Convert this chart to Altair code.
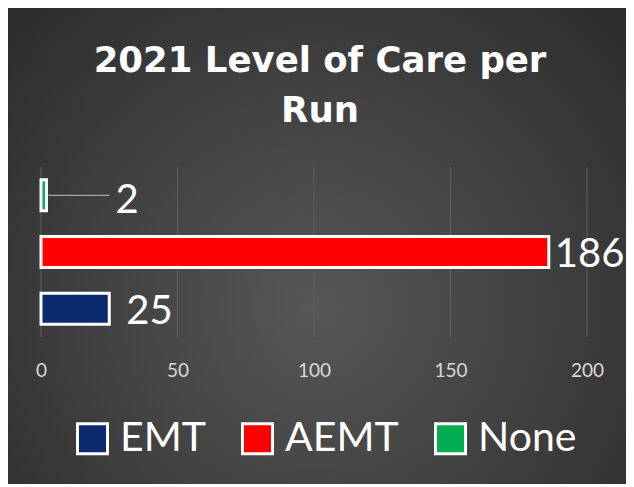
import altair as alt
import pandas as pd

# ---- data ----
categories = ["EMT", "AEMT", "None"]
values = [25, 186, 2]
colors = ["#0b2a6f", "#ff0000", "#00b050"]
tick_values = [0, 50, 100, 150, 200]
title_lines = ["2021 Level of Care per", "Run"]
y_order = ["None", "AEMT", "EMT"]

df = pd.DataFrame({"category": categories, "value": values})
ticks_df = pd.DataFrame({"tick": tick_values})

# ---- layout (not data) ----
W, H = 546, 170
PAD = {"left": 33, "top": 159, "right": 39, "bottom": 147}
label_offsets = {"None": (69, 6), "AEMT": (6, 3), "EMT": (17, 3)}

x_scale = alt.Scale(domain=[0, 200], nice=False, zero=True)
y_scale = alt.Scale(domain=y_order, paddingInner=0, paddingOuter=0)
x_axis = alt.Axis(values=tick_values, grid=False, domain=False, ticks=False,
                  tickSize=0, labelPadding=24, labelFont="Lato", labelFlush=False,
                  labelFontSize=19, labelColor="#d9d9d9", zindex=1)

bg = alt.Chart(alt.Data(values=[{"bg": 1}])).mark_rect(
    fill=alt.RadialGradient(
        gradient="radial",
        stops=[alt.GradientStop(color="#575757", offset=0),
               alt.GradientStop(color="#262626", offset=1)],
        x1=0.5, y1=0.6, r1=0, x2=0.5, y2=0.6, r2=0.78,
    )
).encode(
    x=alt.value(-PAD["left"]), x2=alt.value(W + PAD["right"]),
    y=alt.value(-PAD["top"]), y2=alt.value(H + PAD["bottom"]),
)

grid = alt.Chart(ticks_df).mark_rule(color="#5e5e5e", strokeWidth=1).encode(
    x=alt.X("tick:Q", scale=x_scale, axis=x_axis, title=None)
)

bars = alt.Chart(df).mark_bar(size=31, stroke="white", strokeWidth=3).encode(
    x=alt.X("value:Q", scale=x_scale, axis=x_axis, title=None),
    y=alt.Y("category:N", scale=y_scale, axis=None),
    color=alt.Color("category:N", scale=alt.Scale(domain=categories, range=colors),
                    legend=alt.Legend(title=None, orient="none", legendX=31, legendY=251,
                                      direction="horizontal", symbolType="square",
                                      symbolSize=900, symbolStrokeColor="white",
                                      symbolStrokeWidth=3, symbolOpacity=1,
                                      labelFont="Lato", labelFontSize=41,
                                      labelColor="white", labelOffset=7,
                                      columnPadding=30, padding=0, labelLimit=300)),
)

leader = alt.Chart(df).transform_filter(alt.datum.category == "None").mark_rule(
    color="#a6a6a6", strokeWidth=1.2, xOffset=2, x2Offset=63
).encode(
    x=alt.X("value:Q", scale=x_scale, axis=x_axis, title=None),
    x2="value:Q",
    y=alt.Y("category:N", scale=y_scale, axis=None),
)

texts = []
for cat, (ddx, ddy) in label_offsets.items():
    texts.append(
        alt.Chart(df).transform_filter(alt.datum.category == cat).mark_text(
            align="left", baseline="middle", dx=ddx, dy=ddy,
            font="Lato", fontSize=40, color="white"
        ).encode(
            x=alt.X("value:Q", scale=x_scale, axis=x_axis, title=None),
            y=alt.Y("category:N", scale=y_scale, axis=None),
            text="value:Q",
        )
    )

chart = alt.layer(bg, grid, bars, leader, *texts).properties(
    width=W, height=H,
    title=alt.TitleParams(text=title_lines, font="DejaVu Sans", fontSize=35.5,
                          fontWeight="bold", color="white", lineHeight=50,
                          anchor="middle", frame="group", offset=-121, dx=6),
    autosize=alt.AutoSizeParams(type="none"),
    padding=PAD,
).configure(background="#2b2b2b").configure_view(stroke=None)

chart.save("out.html", embed_options={"renderer": "svg", "actions": False})
